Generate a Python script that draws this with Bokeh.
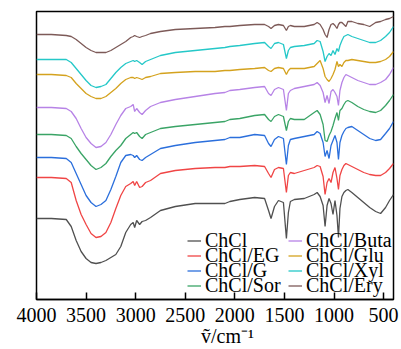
from bokeh.plotting import figure
from bokeh.models import Range1d, FixedTicker, Legend, LegendItem
from bokeh.embed import file_html
from bokeh.resources import INLINE

# wavenumber grid (cm^-1)
wavenumber = [4000, 3850, 3700, 3650, 3600, 3550, 3500, 3450, 3400, 3350, 3300, 3250,
              3200, 3150, 3100, 3050, 3025, 3010, 2990, 2960, 2935, 2900, 2850, 2750,
              2600, 2400, 2200, 2100, 2050, 1950, 1800, 1700, 1660, 1635, 1600, 1560,
              1510, 1480, 1460, 1440, 1400, 1300, 1200, 1170, 1140, 1110, 1090, 1070,
              1050, 1030, 1010, 990, 970, 955, 940, 920, 900, 880, 860, 820, 760, 700,
              640, 580, 530, 480, 440, 400]

# offset transmittance (a.u.)
chcl = [81, 81, 80, 73, 59, 48, 41, 37, 36, 37, 39, 42, 45, 53, 67, 75, 77, 72, 79, 75,
        78, 79, 82, 89, 93, 96, 96, 96, 98, 100, 102, 101, 89, 81, 93, 99, 97, 61, 87, 98,
        100, 101, 105, 107, 103, 94, 73, 94, 101, 96, 85, 99, 84, 62, 91, 103, 107, 109,
        110, 107, 102, 97, 92, 88, 86, 92, 99, 105]
chcl_eg = [122, 122, 121, 117, 99, 85, 75, 66, 62, 63, 67, 77, 91, 104, 113, 116, 118, 114,
           118, 112, 113, 117, 119, 126, 129, 131, 132, 132, 133, 133, 134, 133, 126, 122,
           130, 132, 131, 107, 124, 127, 126, 129, 132, 134, 133, 123, 105, 117, 121, 117,
           127, 132, 121, 110, 124, 130, 134, 136, 135, 133, 130, 127, 125, 124, 124, 127,
           131, 136]
chcl_g = [142, 142, 141, 137, 126, 115, 104, 97, 93, 95, 99, 110, 123, 137, 144, 145, 144,
          142, 144, 140, 139, 142, 145, 151, 154, 157, 159, 160, 162, 162, 165, 164, 156,
          153, 160, 163, 161, 135, 154, 160, 161, 163, 165, 168, 166, 157, 143, 149, 141,
          154, 159, 164, 157, 140, 157, 164, 168, 171, 172, 173, 169, 165, 161, 159, 160,
          166, 171, 178]
chcl_sor = [165, 165, 164, 161, 153, 146, 140, 134, 130, 132, 136, 143, 149, 154, 161, 165,
            167, 166, 167, 163, 161, 165, 167, 171, 173, 175, 177, 178, 180, 181, 184, 185,
            180, 178, 183, 185, 183, 169, 178, 181, 180, 180, 187, 189, 185, 175, 159, 158,
            164, 168, 174, 181, 187, 179, 189, 191, 195, 198, 199, 197, 193, 190, 188, 187,
            189, 194, 199, 205]
chcl_buta = [192, 192, 191, 188, 181, 171, 162, 156, 152, 153, 157, 165, 175, 184, 191, 193,
             195, 188, 191, 187, 185, 189, 193, 197, 200, 203, 206, 207, 209, 210, 212, 213,
             206, 204, 210, 212, 210, 189, 206, 209, 211, 213, 215, 217, 214, 207, 197, 204,
             196, 208, 210, 207, 203, 194, 209, 217, 222, 225, 224, 222, 219, 217, 215, 215,
             217, 220, 225, 232]
chcl_glu = [225, 225, 224, 222, 216, 211, 206, 203, 201, 201, 203, 207, 211, 216, 220, 222,
            222, 221, 222, 221, 220, 222, 223, 226, 227, 228, 228, 229, 229, 230, 231, 232,
            229, 228, 231, 232, 231, 225, 229, 231, 231, 231, 233, 236, 239, 231, 223, 220,
            218, 221, 225, 230, 238, 233, 235, 233, 237, 239, 239, 240, 239, 238, 237, 237,
            238, 240, 243, 248]
chcl_xyl = [240, 240, 240, 237, 231, 225, 219, 214, 212, 213, 215, 221, 227, 232, 236, 238,
            239, 238, 239, 237, 235, 238, 240, 244, 247, 249, 251, 252, 253, 254, 256, 257,
            253, 251, 256, 257, 255, 241, 249, 252, 253, 254, 256, 259, 258, 248, 238, 243,
            246, 244, 249, 245, 251, 248, 254, 259, 263, 264, 265, 263, 261, 259, 257, 257,
            259, 263, 267, 273]
chcl_ery = [265, 265, 264, 263, 260, 256, 252, 249, 247, 247, 247, 249, 252, 255, 258, 262,
            263, 264, 263, 262, 263, 264, 266, 268, 270, 271, 272, 273, 273, 274, 275, 275,
            273, 271, 274, 275, 274, 269, 273, 274, 273, 273, 275, 277, 275, 270, 265, 262,
            270, 275, 276, 274, 271, 275, 277, 277, 275, 273, 278, 278, 276, 275, 273, 277,
            278, 280, 281, 283]

names = ["ChCl", "ChCl/EG", "ChCl/G", "ChCl/Sor", "ChCl/Buta", "ChCl/Glu", "ChCl/Xyl", "ChCl/Ery"]
series = [chcl, chcl_eg, chcl_g, chcl_sor, chcl_buta, chcl_glu, chcl_xyl, chcl_ery]
colors = ["#505050", "#f04545", "#2b6fdc", "#3aa466", "#b783e6", "#d4a21e", "#25c8c8", "#7d5a58"]
x_ticks = [4000, 3500, 3000, 2500, 2000, 1500, 1000, 500]

FONT = "Liberation Serif"

p = figure(width=401, height=349, output_backend="svg", toolbar_location=None,
           x_range=Range1d(4000, 400), y_range=Range1d(0, 288),
           min_border_left=36, min_border_right=8, min_border_top=11, min_border_bottom=50)
p.background_fill_color = "white"
p.border_fill_color = "white"
p.outline_line_color = "black"
p.outline_line_width = 1.5
p.grid.visible = False
p.yaxis.visible = False

ax = p.xaxis[0]
ax.ticker = FixedTicker(ticks=x_ticks)
ax.axis_line_color = "black"
ax.axis_line_width = 1.5
ax.major_tick_in = 7
ax.major_tick_out = 0
ax.major_tick_line_width = 1.5
ax.minor_tick_line_color = None
ax.major_label_text_font = FONT
ax.major_label_text_font_size = "20px"
ax.major_label_text_color = "black"
ax.major_label_standoff = 8
ax.axis_label = "\u00a0\u00a0\u00a0\u00a0\u00a0ṽ/cm⁻¹"
ax.axis_label_text_font = FONT
ax.axis_label_text_font_size = "20px"
ax.axis_label_text_font_style = "normal"
ax.axis_label_text_color = "black"
ax.axis_label_standoff = 0

renderers = []
for ys, c in zip(series, colors):
    r = p.line(wavenumber, ys, line_color=c, line_width=1.3)
    renderers.append(r)

row_offsets = [47, 32, 17, 2]
col_offsets = [151, 252]
for i in range(8):
    col, row = divmod(i, 4)
    lg = Legend(items=[LegendItem(label=names[i], renderers=[renderers[i]])],
                location=(col_offsets[col], row_offsets[row]), padding=0, margin=0,
                glyph_width=14, glyph_height=15, label_height=15, label_standoff=4,
                label_text_font=FONT, label_text_font_size="20px", label_text_color="black",
                border_line_alpha=0, background_fill_alpha=0)
    p.add_layout(lg, "center")

open("out.html", "w").write(file_html(p, INLINE))
